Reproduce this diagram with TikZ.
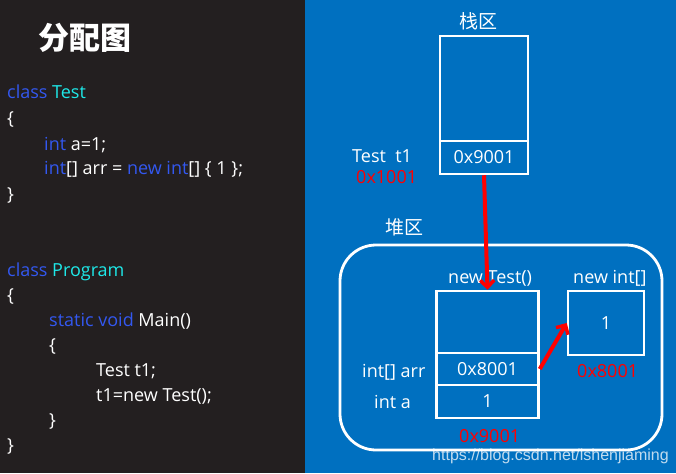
\documentclass[tikz,border=0pt]{standalone}
\usepackage{fontspec}
\usetikzlibrary{arrows.meta}
\setmainfont{Open Sans}
\newfontfamily\cjk{Noto Sans CJK SC}
\newfontfamily\wmfont{Liberation Sans}
\definecolor{darkbg}{HTML}{231F20}
\definecolor{bluebg}{HTML}{0070C0}
\definecolor{kw}{HTML}{3358F0}
\definecolor{cls}{HTML}{1EE8E8}
\definecolor{addr}{HTML}{FF0000}
\tikzset{
  code/.style={anchor=base west, inner sep=0pt, text=white, font=\fontsize{18}{20}\selectfont},
  lbl/.style={anchor=base west, inner sep=0pt, text=white, font=\fontsize{18}{20}\selectfont},
  redlbl/.style={anchor=base west, inner sep=0pt, text=addr, font=\fontsize{18}{20}\selectfont},
  cell/.style={draw=white, line width=2.5pt, inner sep=0pt, text=white, font=\fontsize{18}{20}\selectfont},
  ptr/.style={draw=addr, line width=4pt, -{Straight Barb[length=7pt,width=14pt,line width=3.5pt]}},
}
\begin{document}
\begin{tikzpicture}[x=1pt,y=-1pt]
\useasboundingbox (0,0) rectangle (676,473);
\fill[darkbg] (0,0) rectangle (305,473);
\fill[bluebg] (305,0) rectangle (676,473);
% title
\node[anchor=center, inner sep=0pt, text=white, font=\cjk\bfseries\fontsize{31}{34}\selectfont] (title) at (85,38) {分配图};
% code
\node[code] (c1) at (7,99) {\textcolor{kw}{class} \textcolor{cls}{Test}};
\node[code] (c2) at (7,124.5) {\{};
\node[code] (c3) at (44,150) {\textcolor{kw}{int} a=1;};
\node[code] (c4) at (44,175) {\textcolor{kw}{int}[] arr = \textcolor{kw}{new} \textcolor{kw}{int}[] \{ 1 \};};
\node[code] (c5) at (7,200) {\}};
\node[code] (c6) at (7,276) {\textcolor{kw}{class} \textcolor{cls}{Program}};
\node[code] (c7) at (7,301) {\{};
\node[code] (c8) at (49,326) {\textcolor{kw}{static} \textcolor{kw}{void} Main()};
\node[code] (c9) at (49,351) {\{};
\node[code] (c10) at (96,376) {Test t1;};
\node[code] (c11) at (96,401) {t1=new Test();};
\node[code] (c12) at (49,426) {\}};
\node[code] (c13) at (7,451) {\}};
% stack
\node[anchor=center, inner sep=0pt, text=white, font=\cjk\fontsize{19}{21}\selectfont] (stacklbl) at (478,21) {栈区};
\node[cell, minimum width=88pt, minimum height=105pt] (stop) at (484,88.5) {};
\node[cell, minimum width=88pt, minimum height=33pt] (sref) at (484,157.5) {0x9001};
\node[lbl] (t1lbl) at (352,162) {Test\ \ t1};
\node[redlbl] (t1addr) at (356,183) {0x1001};
% heap
\node[anchor=center, inner sep=0pt, text=white, font=\cjk\fontsize{19}{21}\selectfont] (heaplbl) at (404,227) {堆区};
\draw[white, line width=2.8pt, rounded corners=36pt] (340,245) rectangle (662,450);
\node[lbl] (objlbl) at (448,283) {new Test()};
\node[cell, minimum width=102pt, minimum height=62pt] (otop) at (487.5,322) {};
\node[cell, minimum width=102pt, minimum height=32pt] (oarr) at (487.5,369) {0x8001};
\node[cell, minimum width=102pt, minimum height=33pt] (oa) at (487.5,401.5) {1};
\node[lbl] (arrlbl) at (362,377) {int[] arr};
\node[lbl] (albl) at (374,408) {int a};
\node[redlbl] (objaddr) at (459,442) {0x9001};
\node[lbl] (arrobjlbl) at (573,283) {new int[]};
\node[cell, minimum width=76pt, minimum height=64pt] (abox) at (606,323) {1};
\node[redlbl] (arraddr) at (577,377) {0x8001};
% pointers
\draw[ptr] (sref.south) -- (otop.north);
\draw[ptr] (oarr.east) -- (abox.west);
% watermark
\node[anchor=base west, inner sep=0pt, text=white, opacity=0.75, font=\wmfont\fontsize{16}{18}\selectfont] (wm) at (432,460) {https://blog.csdn.net/lshenjiaming};
\end{tikzpicture}
\end{document}
